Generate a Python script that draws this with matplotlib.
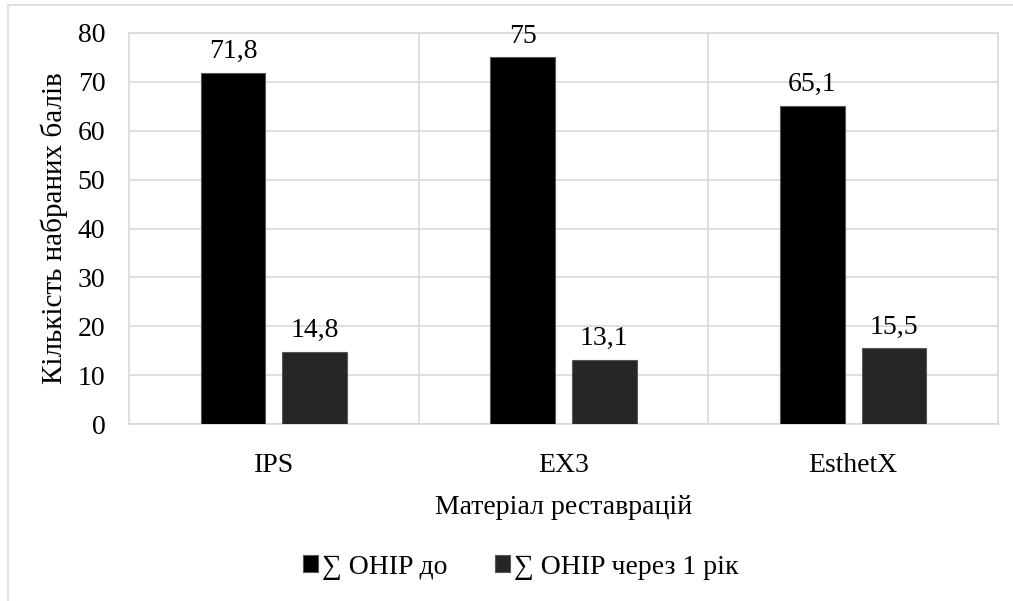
import matplotlib
matplotlib.use("Agg")
import matplotlib.pyplot as plt
from matplotlib.patches import Rectangle
import numpy as np

plt.rcParams['font.family'] = 'serif'
plt.rcParams['font.serif'] = ['Liberation Serif', 'DejaVu Serif']

materials = ["IPS", "EX3", "EsthetX"]
ohip_before = [71.8, 75, 65.1]
ohip_after = [14.8, 13.1, 15.5]
labels_before = ["71,8", "75", "65,1"]
labels_after = ["14,8", "13,1", "15,5"]
series_names = ["∑ OHIP до", "∑ OHIP через 1 рік"]

fig = plt.figure(figsize=(10.13, 6.01), dpi=100)
ax = fig.add_axes([129 / 1013, 1 - 424 / 601, (998 - 129) / 1013, (424 - 33) / 601])

# outer chart frame (partly cut off in the original)
fig.patches.append(Rectangle((8 / 1013, -0.1), 1.2, 1.1 - 5 / 601,
                             transform=fig.transFigure, fill=False,
                             edgecolor="#d9d9d9", linewidth=1.2))

x = np.arange(len(materials))
w = 0.224
off = 0.141
b1 = ax.bar(x - off, ohip_before, w, color="#000000", edgecolor="#595959", linewidth=0.8,
            label=series_names[0], zorder=3)
b2 = ax.bar(x + off, ohip_after, w, color="#262626", edgecolor="#595959", linewidth=0.8,
            label=series_names[1], zorder=3)

for rect, txt in zip(b1, labels_before):
    ax.text(rect.get_x() + rect.get_width() / 2, rect.get_height() + 1.8, txt,
            ha="center", va="bottom", fontsize=20)
for rect, txt in zip(b2, labels_after):
    ax.text(rect.get_x() + rect.get_width() / 2, rect.get_height() + 1.8, txt,
            ha="center", va="bottom", fontsize=20)

ax.set_xlim(-0.5, 2.5)
ax.set_ylim(0, 80)
ax.set_yticks(range(0, 81, 10))
ax.set_xticks(x)
ax.set_xticklabels(materials)
ax.set_xticks([0.5, 1.5], minor=True)
ax.grid(axis="y", color="#d9d9d9", linewidth=1.2, zorder=0)
ax.grid(axis="x", which="minor", color="#d9d9d9", linewidth=1.2, zorder=0)
ax.grid(axis="x", which="major", visible=False)
for s in ax.spines.values():
    s.set_color("#d9d9d9")
    s.set_linewidth(1.2)
ax.tick_params(axis="both", which="both", length=0, labelsize=20)
ax.tick_params(axis="y", pad=17)
ax.tick_params(axis="x", pad=21)

ax.set_xlabel("Матеріал реставрацій", fontsize=20, labelpad=12)
ax.set_ylabel("Кількість набраних балів", fontsize=21, labelpad=7)

ax.legend(loc="center", bbox_to_anchor=(521 / 1013, 1 - 567 / 601),
          bbox_transform=fig.transFigure, ncol=2, frameon=False, fontsize=20,
          handlelength=0.55, handleheight=0.55, handletextpad=0.15, columnspacing=1.7)

fig.savefig("out.png", dpi=100)
